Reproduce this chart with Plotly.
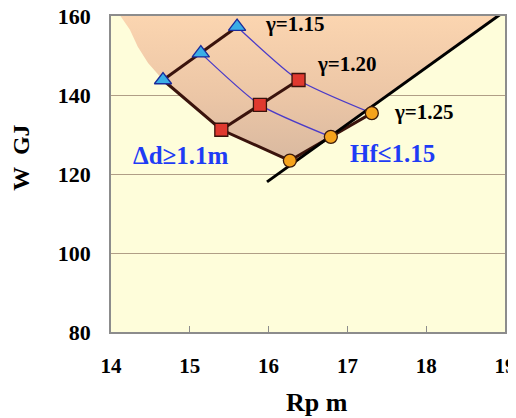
import plotly.graph_objects as go

# ---- data ----
tri_x = [14.66, 15.14, 15.60]          # gamma = 1.15
tri_y = [143.8, 150.6, 157.3]
sq_x = [15.40, 15.89, 16.38]           # gamma = 1.20
sq_y = [131.2, 137.5, 143.8]
circ_x = [16.27, 16.79, 17.31]         # gamma = 1.25
circ_y = [123.4, 129.4, 135.4]

# Hf <= 1.15 constraint line
hf_x = [15.98, 19.10]
hf_y = [118.0, 162.7]

# left boundary of the shaded feasible region
left_curve_x = [14.12, 14.24, 14.34, 14.47, 14.66]
left_curve_y = [160.0, 156.5, 152.2, 148.1, 143.8]

x_ticks = [14, 15, 16, 17, 18, 19]
y_ticks = [80, 100, 120, 140, 160]

SERIF = "Liberation Serif, Times New Roman, serif"

# shaded region: left curve -> lower chain -> Hf line -> top edge
region_x = left_curve_x + [sq_x[0], circ_x[0], 16.35, 18.91, left_curve_x[0]]
region_y = left_curve_y + [sq_y[0], circ_y[0], 123.3, 160.0, left_curve_y[0]]

fig = go.Figure()

fig.add_trace(go.Scatter(
    x=region_x, y=region_y, mode="lines", fill="toself",
    line=dict(width=0),
    fillgradient=dict(type="vertical",
                      colorscale=[[0, "#D9B9A0"], [0.45, "#ECC6A6"], [1, "#FBD5B0"]]),
    hoverinfo="skip", showlegend=False))

# thin blue iso lines
blue = "#4B3BC8"
for i in (1, 2):
    fig.add_trace(go.Scatter(
        x=[tri_x[i], sq_x[i], circ_x[i]], y=[tri_y[i], sq_y[i], circ_y[i]],
        mode="lines", line=dict(color=blue, width=1.3, shape="spline", smoothing=0.6),
        showlegend=False, hoverinfo="skip"))

dark = "#3A130C"
# lower boundary chain
fig.add_trace(go.Scatter(
    x=[tri_x[0], sq_x[0], circ_x[0]], y=[tri_y[0], sq_y[0], circ_y[0]],
    mode="lines", line=dict(color=dark, width=3), showlegend=False, hoverinfo="skip"))
# gamma chains
for xs, ys in ((tri_x, tri_y), (sq_x, sq_y), (circ_x, circ_y)):
    fig.add_trace(go.Scatter(x=xs, y=ys, mode="lines",
                             line=dict(color=dark, width=3),
                             showlegend=False, hoverinfo="skip"))

# Hf constraint line
fig.add_trace(go.Scatter(x=hf_x, y=hf_y, mode="lines",
                         line=dict(color="black", width=3),
                         showlegend=False, hoverinfo="skip"))

# markers
fig.add_trace(go.Scatter(x=tri_x, y=tri_y, mode="markers",
                         marker=dict(symbol="triangle-up", size=15, color="#3AAEE6",
                                     line=dict(color="#1A2A9A", width=1.3)),
                         showlegend=False, cliponaxis=False))
fig.add_trace(go.Scatter(x=sq_x, y=sq_y, mode="markers",
                         marker=dict(symbol="square", size=13, color="#E0392F",
                                     line=dict(color="#3A130C", width=1.3)),
                         showlegend=False, cliponaxis=False))
fig.add_trace(go.Scatter(x=circ_x, y=circ_y, mode="markers",
                         marker=dict(symbol="circle", size=13, color="#F5A31C",
                                     line=dict(color="#3A1A0C", width=1.3)),
                         showlegend=False, cliponaxis=False))

annots = [
    dict(x=16.335, y=158.0, text="γ=1.15", font=dict(size=21, color="black")),
    dict(x=16.995, y=147.8, text="γ=1.20", font=dict(size=21, color="black")),
    dict(x=17.97, y=135.7, text="γ=1.25", font=dict(size=21, color="black")),
    dict(x=14.89, y=124.6, text="Δd≥1.1m", font=dict(size=25, color="#1E3CF5")),
    dict(x=17.57, y=125.3, text="Hf≤1.15", font=dict(size=25, color="#1E3CF5")),
]
for a in annots:
    a["font"]["family"] = SERIF
    a["font"]["weight"] = "bold"
    fig.add_annotation(xref="x", yref="y", showarrow=False, **a)

# axis titles placed as paper annotations
fig.add_annotation(xref="paper", yref="paper", x=0.523, y=-0.222, text="Rp m",
                   showarrow=False, xanchor="center", yanchor="middle",
                   font=dict(family=SERIF, size=26, weight="bold", color="black"))
fig.add_annotation(xref="paper", yref="paper", x=-0.229, y=0.551, text="W  GJ",
                   textangle=-90, showarrow=False, xanchor="center", yanchor="middle",
                   font=dict(family=SERIF, size=24, weight="bold", color="black"))

axis_line = "#8C8C8C"
fig.update_layout(
    width=516, height=410,
    margin=dict(l=103, r=19, t=8, b=86, autoexpand=False),
    paper_bgcolor="white",
    plot_bgcolor="#FEFDDA",
    font=dict(family=SERIF, color="black"),
    xaxis=dict(range=[14, 19], tickvals=x_ticks, ticks="inside", ticklen=6,
               tickcolor=axis_line, showgrid=False, zeroline=False,
               showline=True, mirror=True, linecolor=axis_line, linewidth=1.5,
               tickfont=dict(family=SERIF, size=21, weight="bold"),
               ticklabelstandoff=14, automargin=False, ticklabeloverflow="allow"),
    yaxis=dict(range=[80, 160], tickvals=y_ticks, ticks="",
               showgrid=True, gridcolor="rgba(150,125,105,0.75)", gridwidth=1,
               zeroline=False, showline=True, mirror=True,
               linecolor=axis_line, linewidth=1.5,
               tickfont=dict(family=SERIF, size=22, weight="bold"),
               ticklabelstandoff=14, automargin=False, ticklabeloverflow="allow"),
)

fig.write_html("out.html")
